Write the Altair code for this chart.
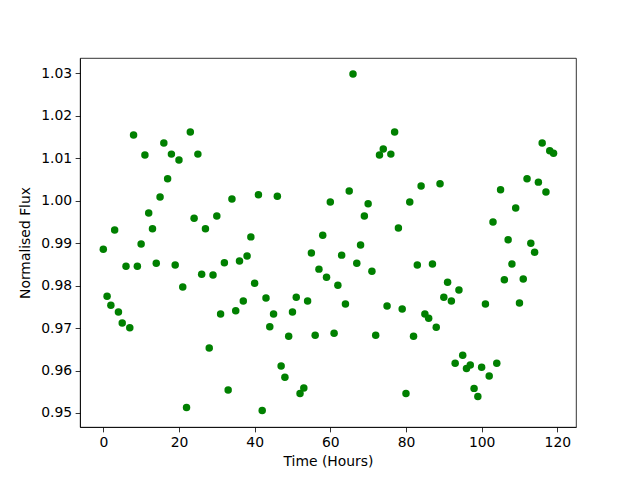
import altair as alt
import pandas as pd

time_hours = [
    0, 1, 2, 3, 4, 5, 6, 7, 8, 9,
    10, 11, 12, 13, 14, 15, 16, 17, 18, 19,
    20, 21, 22, 23, 24, 25, 26, 27, 28, 29,
    30, 31, 32, 33, 34, 35, 36, 37, 38, 39,
    40, 41, 42, 43, 44, 45, 46, 47, 48, 49,
    50, 51, 52, 53, 54, 55, 56, 57, 58, 59,
    60, 61, 62, 63, 64, 65, 66, 67, 68, 69,
    70, 71, 72, 73, 74, 75, 76, 77, 78, 79,
    80, 81, 82, 83, 84, 85, 86, 87, 88, 89,
    90, 91, 92, 93, 94, 95, 96, 97, 98, 99,
    100, 101, 102, 103, 104, 105, 106, 107, 108, 109,
    110, 111, 112, 113, 114, 115, 116, 117, 118, 119,
]

flux = [
    0.9886, 0.9775, 0.9754, 0.9931, 0.9738, 0.9712, 0.9846, 0.9701, 1.0155, 0.9846,
    0.9898, 1.0108, 0.9971, 0.9934, 0.9853, 1.0009, 1.0136, 1.0052, 1.0110, 0.9849,
    1.0096, 0.9797, 0.9513, 1.0162, 0.9959, 1.0110, 0.9827, 0.9934, 0.9653, 0.9825,
    0.9964, 0.9733, 0.9854, 0.9554, 1.0004, 0.9741, 0.9858, 0.9764, 0.9870, 0.9915,
    0.9806, 1.0014, 0.9506, 0.9771, 0.9703, 0.9733, 1.0011, 0.9611, 0.9584, 0.9681,
    0.9738, 0.9773, 0.9546, 0.9559, 0.9764, 0.9877, 0.9683, 0.9839, 0.9919, 0.9820,
    0.9997, 0.9688, 0.9801, 0.9872, 0.9757, 1.0023, 1.0299, 0.9853, 0.9896, 0.9964,
    0.9993, 0.9834, 0.9683, 1.0108, 1.0122, 0.9752, 1.0110, 1.0162, 0.9936, 0.9745,
    0.9546, 0.9997, 0.9681, 0.9849, 1.0035, 0.9733, 0.9723, 0.9851, 0.9702, 1.0040,
    0.9773, 0.9808, 0.9764, 0.9617, 0.9790, 0.9636, 0.9605, 0.9613, 0.9558, 0.9539,
    0.9608, 0.9757, 0.9587, 0.9950, 0.9617, 1.0026, 0.9814, 0.9908, 0.9851, 0.9983,
    0.9759, 0.9816, 1.0052, 0.9900, 0.9879, 1.0044, 1.0136, 1.0021, 1.0118, 1.0112,
]

x_ticks = [0, 20, 40, 60, 80, 100, 120]
y_ticks = [0.95, 0.96, 0.97, 0.98, 0.99, 1.00, 1.01, 1.02, 1.03]

df = pd.DataFrame({"time": time_hours, "flux": flux})

FONT = "DejaVu Sans"

chart = (
    alt.Chart(df)
    .mark_circle(size=56, color="green", opacity=1)
    .encode(
        x=alt.X(
            "time:Q",
            title="Time (Hours)",
            scale=alt.Scale(domain=[-6.16, 124.94], nice=False, zero=False),
            axis=alt.Axis(values=x_ticks, format="d", titlePadding=5),
        ),
        y=alt.Y(
            "flux:Q",
            title="Normalised Flux",
            scale=alt.Scale(domain=[0.9467, 1.03365], nice=False, zero=False),
            axis=alt.Axis(values=y_ticks, format=".2f", titlePadding=8),
        ),
    )
    .properties(
        width=496,
        height=369,
        autosize=alt.AutoSizeParams(type="none"),
        padding={"left": 72, "top": 50, "right": 50, "bottom": 45},
    )
    .configure_axis(
        grid=False,
        domainColor="black",
        domainWidth=0.8,
        tickColor="black",
        tickWidth=0.8,
        tickSize=4.86,
        labelFont=FONT,
        labelFontSize=13.9,
        labelColor="black",
        labelPadding=3.5,
        titleFont=FONT,
        titleFontSize=13.9,
        titleFontWeight="normal",
        titleColor="black",
    )
    .configure_view(stroke="black", strokeWidth=0.8)
)

chart.save("out.html", embed_options={"renderer": "svg", "actions": False})
